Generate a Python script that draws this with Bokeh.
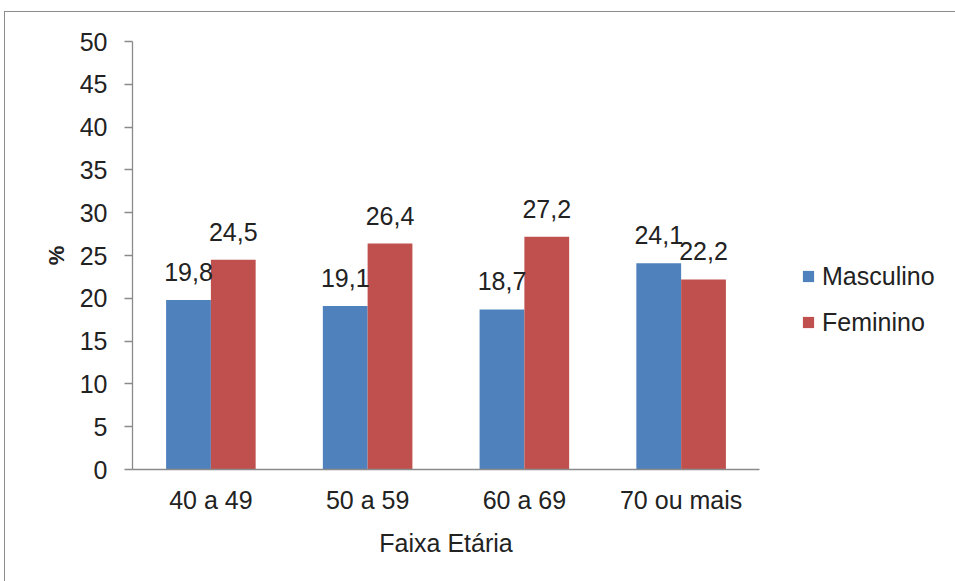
from bokeh.plotting import figure
from bokeh.models import FactorRange, Legend, LegendItem, ColumnDataSource
from bokeh.transform import dodge
from bokeh.embed import file_html
from bokeh.resources import INLINE
from bokeh.core.properties import value

categories = ["40 a 49", "50 a 59", "60 a 69", "70 ou mais"]
masculino = [19.8, 19.1, 18.7, 24.1]
feminino = [24.5, 26.4, 27.2, 22.2]
y_ticks = [0, 5, 10, 15, 20, 25, 30, 35, 40, 45, 50]

FONT = "Liberation Sans"
TXT = "#222222"
AX = "#8a8a8a"
BLUE = "#4F81BD"
RED = "#C0504D"

src = ColumnDataSource(dict(
    cat=categories,
    m=masculino,
    f=feminino,
    ml=[f"{v:.1f}".replace(".", ",") for v in masculino],
    fl=[f"{v:.1f}".replace(".", ",") for v in feminino],
))

p = figure(
    x_range=FactorRange(*categories, range_padding=0),
    y_range=(0, 50),
    frame_width=627, frame_height=428,
    output_backend="svg", toolbar_location=None,
    min_border_left=127, min_border_top=29, min_border_bottom=112, min_border_right=0,
)
p.styles = {"border-left": "1px solid #8c8c8c", "border-top": "1px solid #8c8c8c",
            "margin-left": "4px", "margin-top": "11px"}
p.outline_line_color = None
p.grid.visible = False
p.background_fill_color = "white"

w = 0.2857
rm = p.vbar(x=dodge("cat", -w / 2, range=p.x_range), top="m", width=w, source=src,
            fill_color=BLUE, line_color=None)
rf = p.vbar(x=dodge("cat", w / 2, range=p.x_range), top="f", width=w, source=src,
            fill_color=RED, line_color=None)

p.text(x=dodge("cat", -w / 2, range=p.x_range), y="m", text="ml", source=src,
       text_font=value(FONT), text_font_size="25px", text_color=TXT,
       text_align="center", text_baseline="alphabetic", y_offset=-28)
p.text(x=dodge("cat", w / 2, range=p.x_range), y="f", text="fl", source=src,
       text_font=value(FONT), text_font_size="25px", text_color=TXT,
       text_align="center", text_baseline="alphabetic", y_offset=-28)

# y axis
ya = p.yaxis[0]
ya.ticker = y_ticks
ya.axis_label = "%"
ya.axis_label_text_font = FONT
ya.axis_label_text_font_size = "22px"
ya.axis_label_text_font_style = "bold"
ya.axis_label_text_color = TXT
ya.axis_label_standoff = 8
ya.major_label_text_font = FONT
ya.major_label_text_font_size = "25px"
ya.major_label_text_color = TXT
ya.major_label_standoff = 17
ya.major_tick_in = 0
ya.major_tick_out = 8
ya.minor_tick_in = 0
ya.minor_tick_out = 0
ya.axis_line_color = AX
ya.major_tick_line_color = AX
ya.axis_line_width = 1.3
ya.major_tick_line_width = 1.3

# x axis
xa = p.xaxis[0]
xa.axis_label = "Faixa Etária"
xa.axis_label_text_font = FONT
xa.axis_label_text_font_size = "25px"
xa.axis_label_text_font_style = "normal"
xa.axis_label_text_color = TXT
xa.axis_label_standoff = 12
xa.major_label_text_font = FONT
xa.major_label_text_font_size = "25px"
xa.major_label_text_color = TXT
xa.major_label_standoff = 16
xa.major_tick_in = 0
xa.major_tick_out = 0
xa.axis_line_color = AX
xa.axis_line_width = 1.3

legend = Legend(
    items=[LegendItem(label="Masculino", renderers=[rm]),
           LegendItem(label="Feminino", renderers=[rf])],
    location=(42, 132),
    glyph_width=14, glyph_height=14, label_height=30, spacing=16,
    label_standoff=7, padding=0, margin=0,
    label_text_font=FONT, label_text_font_size="25px", label_text_color=TXT,
    border_line_color=None, background_fill_alpha=0,
)
p.add_layout(legend, "right")

open("out.html", "w").write(file_html(p, INLINE))
